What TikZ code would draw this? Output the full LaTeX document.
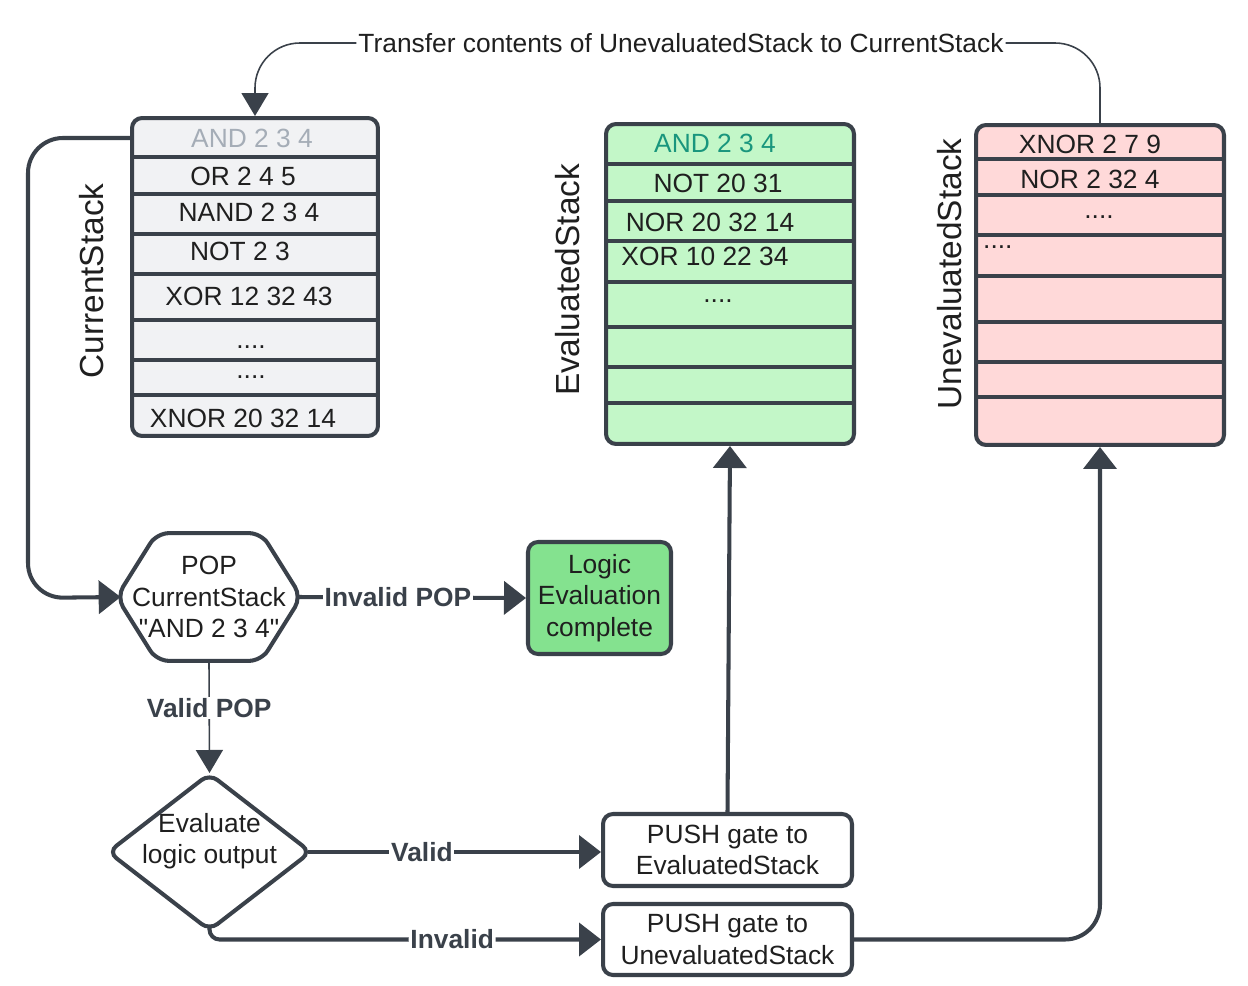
\documentclass[tikz,border=0pt]{standalone}
\usepackage{fontspec}
\setmainfont{Liberation Sans}
\usetikzlibrary{arrows.meta,shapes.geometric}

\definecolor{linec}{HTML}{3A414A}
\definecolor{txtc}{HTML}{1F1F1F}
\definecolor{greyc}{HTML}{A5ADB7}
\definecolor{tealc}{HTML}{19967D}
\definecolor{curfill}{HTML}{F1F2F4}
\definecolor{evalfill}{HTML}{C3F7C8}
\definecolor{unevalfill}{HTML}{FFD9D9}
\definecolor{donefill}{HTML}{84E28F}

\begin{document}
\begin{tikzpicture}[x=0.02cm, y=-0.02cm,
    every node/.style = {font=\fontsize{15pt}{18pt}\selectfont, text=txtc, align=center},
    stackbox/.style = {draw=linec, line width=2.3pt, rounded corners=0.2cm,
      minimum width=4.96cm, minimum height=6.4cm, inner sep=0pt},
    sepline/.style = {draw=linec, line width=2pt},
    stacklabel/.style = {font=\fontsize{19pt}{22pt}\selectfont, rotate=90},
    stepbox/.style = {draw=linec, line width=2.3pt, rounded corners=0.2cm, inner sep=0pt},
    flow/.style = {draw=linec, line width=2.3pt, -{Triangle[length=0.44cm,width=0.66cm]}},
    thinline/.style = {draw=linec, line width=0.9pt},
    thinflow/.style = {thinline, -{Triangle[length=0.46cm,width=0.54cm]}},
    flowlabel/.style = {font=\bfseries\fontsize{15pt}{18pt}\selectfont, text=linec,
      fill=white, inner sep=1pt}]
  \useasboundingbox (0,0) rectangle (1248,986);

  % the three stacks
  \node[stackbox, fill=curfill, minimum width=4.92cm, minimum height=6.36cm] (curstack) at (255,277) {};
  \node[stackbox, fill=evalfill] (evalstack) at (730,284) {};
  \node[stackbox, fill=unevalfill] (unevalstack) at (1100,285) {};
  \foreach \y in {157,194,234,274,320,360,395}
    \draw[sepline] (curstack.west |- 0,\y) -- (curstack.east |- 0,\y);
  \foreach \y in {164,201,241,282,327,367,403}
    \draw[sepline] (evalstack.west |- 0,\y) -- (evalstack.east |- 0,\y);
  \foreach \y in {159,195,235,276,322,362,397}
    \draw[sepline] (unevalstack.west |- 0,\y) -- (unevalstack.east |- 0,\y);

  \node[stacklabel] (curlabel) at (92,281) {CurrentStack};
  \node[stacklabel] (evallabel) at (568,280) {EvaluatedStack};
  \node[stacklabel] (unevallabel) at (950,274) {UnevaluatedStack};

  \node[text=greyc] (cur1) at (252,138) {AND 2 3 4};
  \node (cur2) at (243,176) {OR 2 4 5};
  \node (cur3) at (249,212) {NAND 2 3 4};
  \node (cur4) at (240,251) {NOT 2 3};
  \node (cur5) at (249,296) {XOR 12 32 43};
  \node (cur6) at (251,347) {....};
  \node (cur7) at (251,377) {....};
  \node (cur8) at (243,418) {XNOR 20 32 14};

  \node[text=tealc] (ev1) at (715,143) {AND 2 3 4};
  \node (ev2) at (718,183) {NOT 20 31};
  \node (ev3) at (710,222) {NOR 20 32 14};
  \node (ev4) at (705,256) {XOR 10 22 34};
  \node (ev5) at (718,301) {....};

  \node (un1) at (1090,144) {XNOR 2 7 9};
  \node (un2) at (1090,179) {NOR 2 32 4};
  \node (un3) at (1099,217) {....};
  \node[anchor=west] (un4) at (977,247) {....};

  % flow
  \node[inner sep=0pt, minimum width=3.68cm, minimum height=2.54cm] (pop) at (209,597)
    {POP\\CurrentStack\\\textquotedbl AND 2 3 4\textquotedbl};
  \draw[draw=linec, line width=2.3pt, rounded corners=0.24cm]
    (pop.west) -- ([xshift=0.8cm]pop.north west) -- ([xshift=-0.8cm]pop.north east)
    -- (pop.east) -- ([xshift=-0.8cm]pop.south east) -- ([xshift=0.8cm]pop.south west) -- cycle;
  \node[stepbox, fill=donefill, minimum width=2.86cm, minimum height=2.24cm] (done) at (599.5,598)
    {Logic\\Evaluation\\complete};
  \node[diamond, draw=linec, line width=2.3pt, rounded corners=0.2cm, aspect=1.3, inner sep=0pt,
    minimum width=4.08cm, minimum height=3.16cm] (evalq) at (209.5,852) {};
  \node (evaltext) at (209.5,841) {Evaluate\\logic output};
  \node[stepbox, minimum width=4.98cm, minimum height=1.44cm] (pushev) at (727.5,850)
    {PUSH gate to\\EvaluatedStack};
  \node[stepbox, minimum width=4.98cm, minimum height=1.42cm] (pushun) at (727.5,939.5)
    {PUSH gate to\\UnevaluatedStack};

  \coordinate (loopturn) at (28,598);
  \draw[flow, rounded corners=0.7cm] (curstack.west |- cur1) -| (loopturn) -- ([xshift=0.08cm]pop.west);
  \draw[flow] ([xshift=-0.08cm]pop.east) -- node[flowlabel, pos=0.44] {Invalid POP} (done.west);
  \draw[thinflow] (pop.south) -- node[flowlabel, pos=0.42] {Valid POP} ([yshift=-0.04cm]evalq.north);
  \draw[flow] ([xshift=-0.12cm]evalq.east) -- node[flowlabel, pos=0.39] {Valid} (pushev.west |- evalq.east);
  \draw[flow, rounded corners=0.2cm] ([yshift=0.1cm]evalq.south) |- node[flowlabel, pos=0.81] {Invalid} (pushun.west);
  \draw[flow] (pushev.north) -- (evalstack.south);
  \draw[flow, rounded corners=0.7cm] (pushun.east) -| (unevalstack.south);

  \node[inner sep=1pt] (transfer) at (681,43) {Transfer contents of UnevaluatedStack to CurrentStack};
  \draw[thinline, rounded corners=0.9cm] (unevalstack.north) |- (transfer.east);
  \draw[thinflow, rounded corners=0.9cm] (transfer.west) -| (curstack.north);
\end{tikzpicture}
\end{document}
